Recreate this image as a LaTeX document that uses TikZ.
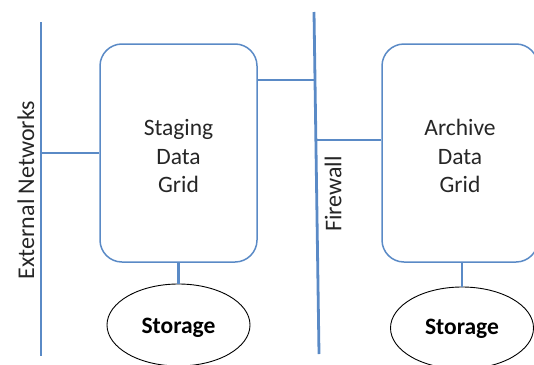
\documentclass[tikz,border=0pt]{standalone}
\usepackage{fontspec}
\setmainfont{Carlito}
\usetikzlibrary{shapes.geometric}
\definecolor{netblue}{HTML}{5A8AC6}
\definecolor{textgray}{HTML}{262626}
\begin{document}
\begin{tikzpicture}[x=1pt,y=-1pt,
  net/.style={draw=netblue,line width=2.8pt},
  gridbox/.style={draw=netblue,line width=1.5pt,rounded corners=22pt,minimum width=157pt,minimum height=218pt,align=center,inner sep=0pt,font=\fontsize{23.5}{28.5}\selectfont,text=textgray},
  store/.style={ellipse,draw=black,line width=0.9pt,minimum width=143pt,minimum height=82pt,inner sep=0pt,font=\fontsize{23.5}{28}\selectfont\bfseries},
  lbl/.style={rotate=90,font=\fontsize{24}{28}\selectfont,text=textgray,inner sep=0pt}]
\useasboundingbox (0,0) rectangle (534,364);
\clip (0,0) rectangle (534,364);
% network lines
\coordinate (extT) at (41,22);
\coordinate (extB) at (41,356);
\coordinate (fwT) at (314,12);
\coordinate (fwB) at (319,354);
\coordinate (fwA) at (315,80);
\coordinate (fwC) at (316,140);
\draw[net] (extT) -- (extB);
\draw[net] (fwT) -- (fwB);
% boxes
\node[gridbox] (stg) at (178.5,153) {\raisebox{-3pt}[\height][\depth]{\parbox{150pt}{\centering Staging\\Data\\Grid}}};
\node[gridbox,minimum width=156pt] (arc) at (460,153) {\raisebox{-3pt}[\height][\depth]{\parbox{150pt}{\centering Archive\\Data\\Grid}}};
% storage
\node[store] (s1) at (178.5,325) {\raisebox{-3pt}[\height][\depth]{Storage}};
\node[store] (s2) at (462,328) {\raisebox{-1pt}[\height][\depth]{Storage}};
% labels
\node[lbl] (extlbl) at (26,190) {External Networks};
\node[lbl] (fwlbl) at (333,194) {Firewall};
% connectors
\draw[net] (extT |- stg.west) -- (stg.west);
\draw[net] (stg.east |- fwA) -- (fwA);
\draw[net] (fwC) -- (arc.west |- fwC);
\draw[net] (stg.south) -- (s1.north);
\draw[net] (s2.north |- arc.south) -- (s2.north);
\end{tikzpicture}
\end{document}
